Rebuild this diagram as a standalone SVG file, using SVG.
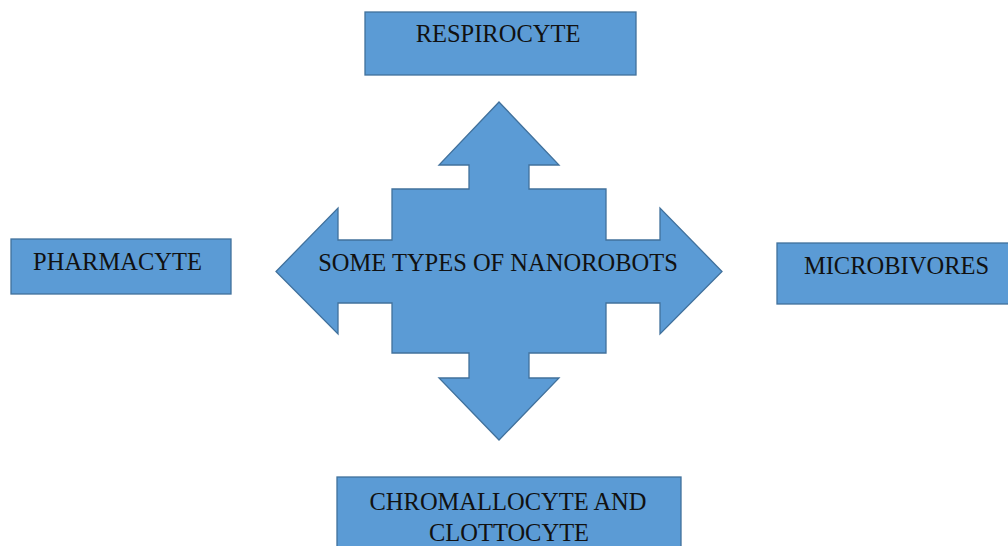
<svg xmlns="http://www.w3.org/2000/svg" width="1008" height="546" viewBox="0 0 1008 546">
  <style>
    .box { fill: #5B9BD5; stroke: #41719C; stroke-width: 1.3; }
    .lbl { font-family: "Liberation Serif", "Times New Roman", serif; font-size: 24.5px; fill: #111; text-anchor: middle; }
  </style>
  <rect width="1008" height="546" fill="#ffffff"/>
  <g id="connectors">
    <path id="cross-arrow" class="box" d="M499,102 L559,165 L529,165 L529,189 L606,189 L606,240 L660,240 L660,208 L722,271.5 L660,334 L660,303 L606,303 L606,353 L529,353 L529,378 L559,378 L499,440 L439,378 L469,378 L469,353 L392,353 L392,303 L338,303 L338,334 L276,271.5 L338,208 L338,240 L392,240 L392,189 L469,189 L469,165 L439,165 Z"/>
  </g>
  <g id="center">
    <text class="lbl" x="498" y="271">SOME TYPES OF NANOROBOTS</text>
  </g>
  <g id="respirocyte">
    <rect class="box" x="365" y="12" width="271" height="63"/>
    <text class="lbl" x="498" y="42">RESPIROCYTE</text>
  </g>
  <g id="pharmacyte">
    <rect class="box" x="11" y="239" width="220" height="55"/>
    <text class="lbl" x="117.5" y="270">PHARMACYTE</text>
  </g>
  <g id="microbivores">
    <rect class="box" x="777" y="243" width="240" height="61"/>
    <text class="lbl" x="896.5" y="274">MICROBIVORES</text>
  </g>
  <g id="chromallocyte">
    <rect class="box" x="337" y="477" width="344" height="80"/>
    <text class="lbl" x="508" y="510">CHROMALLOCYTE AND</text>
    <text class="lbl" x="509" y="541">CLOTTOCYTE</text>
  </g>
</svg>
